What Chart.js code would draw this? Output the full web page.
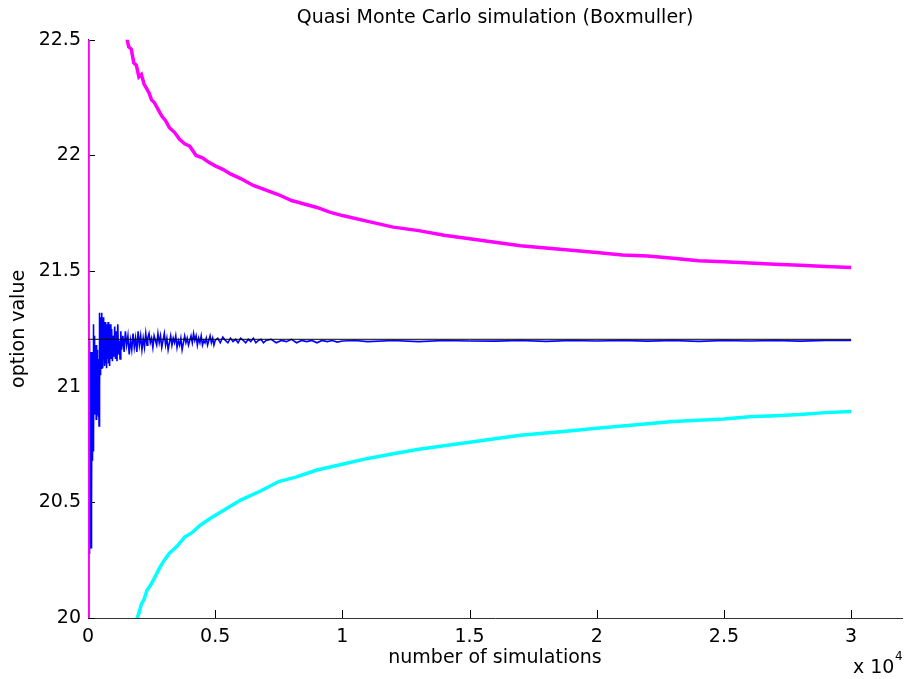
<!DOCTYPE html>
<html>
<head>
<meta charset="utf-8">
<title>Quasi Monte Carlo simulation (Boxmuller)</title>
<script src="https://cdn.jsdelivr.net/npm/chart.js@4/dist/chart.umd.min.js"></script>
<style>
  html, body { margin: 0; padding: 0; background: #fff; }
  canvas { display: block; }
</style>
</head>
<body>
<canvas id="qmcChart" width="906" height="679"></canvas>
<script>
// tick positions (x in number of simulations, shown as multiples of 1e4)
const xTicks = [0, 5000, 10000, 15000, 20000, 25000, 30000];
const yTicks = [20, 20.5, 21, 21.5, 22, 22.5];

// reference value (black line)
const refSeries = [[0, 21.205], [30000, 21.205]];

// running estimate (blue), [simulations, option value]
const blueSeries = [
  [3, 21.36], [6, 20.0], [9, 21.2], [12, 20.4], [15, 21.1], [18, 20.27], [21, 21.15], [24, 20.5],
  [27, 21.2], [30, 20.3], [33, 21.0], [36, 20.45], [39, 21.18], [42, 20.28], [45, 21.05], [48, 20.6],
  [51, 21.2], [54, 20.35], [57, 21.1], [60, 20.5], [63, 20.95], [66, 20.3], [69, 21.15], [72, 20.55],
  [75, 21.05], [78, 20.28], [81, 21.12], [84, 20.45], [87, 21.0], [90, 20.32], [94, 21.15], [98, 20.5],
  [102, 21.08], [106, 20.3], [110, 21.0], [114, 20.55], [118, 21.15], [122, 20.4], [126, 21.05], [130, 20.3],
  [134, 21.1], [138, 20.6], [142, 20.95], [146, 20.35], [150, 21.12], [154, 20.5], [158, 21.05], [162, 20.7],
  [167, 21.1], [172, 20.68], [177, 21.0], [182, 20.75], [187, 21.15], [192, 20.7], [197, 21.05], [202, 20.8],
  [207, 21.2], [212, 20.72], [217, 21.27], [222, 20.85], [227, 21.1], [232, 20.78], [237, 21.22], [242, 20.9],
  [250, 21.2], [258, 20.88], [266, 21.12], [274, 20.95], [282, 21.18], [290, 20.9], [298, 21.1], [306, 20.97],
  [314, 21.15], [322, 20.86], [330, 21.08], [338, 20.93], [346, 21.18], [354, 20.88], [362, 21.1], [370, 20.95],
  [378, 21.16], [386, 20.9], [394, 21.12], [402, 20.87], [410, 21.05], [418, 20.92], [426, 21.1], [434, 20.83],
  [442, 21.2], [450, 20.95], [458, 21.32], [466, 21.0], [474, 21.28], [482, 21.05], [490, 21.3], [498, 21.1],
  [510, 21.28], [525, 21.08], [540, 21.32], [555, 21.1], [570, 21.25], [585, 21.08], [600, 21.3], [615, 21.12],
  [630, 21.26], [650, 21.09], [670, 21.28], [690, 21.1], [710, 21.24], [730, 21.08], [750, 21.27], [770, 21.12],
  [790, 21.28], [810, 21.1], [830, 21.22], [850, 21.09], [870, 21.27], [900, 21.12], [930, 21.25], [960, 21.11],
  [990, 21.22], [1020, 21.13], [1050, 21.26], [1080, 21.12], [1110, 21.24], [1140, 21.11], [1170, 21.27], [1200, 21.14],
  [1230, 21.2], [1260, 21.12], [1290, 21.24], [1320, 21.16], [1370, 21.22], [1420, 21.15], [1470, 21.24], [1520, 21.18],
  [1570, 21.22], [1620, 21.14], [1670, 21.2], [1720, 21.16], [1770, 21.23], [1820, 21.17], [1870, 21.21], [1920, 21.15],
  [1970, 21.24], [2020, 21.18], [2070, 21.22], [2120, 21.16], [2170, 21.21], [2220, 21.17], [2270, 21.23], [2320, 21.18],
  [2350, 21.21], [2400, 21.23], [2450, 21.19], [2500, 21.21], [2550, 21.17], [2600, 21.22], [2650, 21.2], [2700, 21.18],
  [2750, 21.23], [2800, 21.19], [2850, 21.22], [2900, 21.17], [2950, 21.2], [3000, 21.23], [3050, 21.18], [3100, 21.21],
  [3150, 21.16], [3200, 21.19], [3250, 21.22], [3300, 21.18], [3350, 21.21], [3400, 21.19], [3450, 21.22], [3500, 21.17],
  [3550, 21.2], [3600, 21.18], [3650, 21.21], [3700, 21.16], [3750, 21.19], [3800, 21.22], [3850, 21.19], [3900, 21.21],
  [3950, 21.18], [4000, 21.2], [4050, 21.22], [4100, 21.19], [4150, 21.23], [4200, 21.2], [4250, 21.22], [4300, 21.18],
  [4350, 21.21], [4400, 21.19], [4450, 21.22], [4500, 21.18], [4550, 21.2], [4600, 21.19], [4650, 21.21], [4700, 21.18],
  [4750, 21.2], [4800, 21.22], [4850, 21.19], [4900, 21.21], [4950, 21.18], [5000, 21.2], [5100, 21.21], [5200, 21.19],
  [5300, 21.215], [5400, 21.2], [5500, 21.19], [5600, 21.21], [5700, 21.195], [5800, 21.205], [5900, 21.19], [6000, 21.21],
  [6100, 21.2], [6200, 21.19], [6300, 21.205], [6400, 21.195], [6500, 21.21], [6600, 21.19], [6700, 21.2], [6800, 21.205],
  [6900, 21.19], [7000, 21.2], [7200, 21.205], [7400, 21.19], [7600, 21.2], [7800, 21.195], [8000, 21.205], [8200, 21.19],
  [8400, 21.2], [8600, 21.195], [8800, 21.2], [9000, 21.19], [9200, 21.2], [9400, 21.195], [9600, 21.2], [9800, 21.193],
  [10000, 21.198], [10500, 21.2], [11000, 21.195], [12000, 21.2], [13000, 21.195], [14000, 21.2], [15000, 21.198], [16000, 21.197],
  [17000, 21.2], [18000, 21.196], [19000, 21.2], [20000, 21.198], [21000, 21.2], [22000, 21.197], [23000, 21.2], [24000, 21.196],
  [25000, 21.2], [26000, 21.198], [27000, 21.2], [28000, 21.197], [29000, 21.2], [30000, 21.2]
];

// upper bound (magenta)
const upperSeries = [
  [1, 19.6], [4, 25.0], [1000, 22.9], [1300, 22.7], [1500, 22.52], [1600, 22.47], [1700, 22.46], [1800, 22.4],
  [1900, 22.39], [2000, 22.34], [2100, 22.35], [2200, 22.31], [2300, 22.29], [2400, 22.27], [2500, 22.24], [2600, 22.23],
  [2750, 22.2], [2900, 22.17], [3050, 22.15], [3200, 22.12], [3400, 22.1], [3600, 22.07], [3800, 22.05], [4000, 22.04],
  [4250, 22.0], [4500, 21.99], [4750, 21.97], [5000, 21.955], [5300, 21.94], [5600, 21.92], [6000, 21.9], [6500, 21.87],
  [7000, 21.85], [7500, 21.83], [8000, 21.805], [8500, 21.79], [9000, 21.775], [9500, 21.755], [10000, 21.74], [11000, 21.715],
  [12000, 21.69], [13000, 21.675], [14000, 21.655], [15000, 21.64], [16000, 21.625], [17000, 21.61], [18000, 21.6], [19000, 21.59],
  [20000, 21.58], [21000, 21.57], [22000, 21.565], [23000, 21.555], [24000, 21.545], [25000, 21.54], [26000, 21.535], [27000, 21.53],
  [28000, 21.525], [29000, 21.52], [30000, 21.515]
];

// lower bound (cyan)
const lowerSeries = [
  [2, 16.0], [1000, 19.5], [1500, 19.8], [1750, 19.92], [1930, 20.0], [2000, 20.02], [2100, 20.06], [2200, 20.08],
  [2320, 20.12], [2450, 20.14], [2600, 20.17], [2830, 20.22], [3000, 20.25], [3200, 20.28], [3500, 20.31], [3800, 20.35],
  [4100, 20.37], [4400, 20.4], [4800, 20.43], [5400, 20.47], [6000, 20.51], [6800, 20.55], [7500, 20.59], [8200, 20.61],
  [9000, 20.64], [10000, 20.665], [11000, 20.69], [12000, 20.71], [13000, 20.73], [14000, 20.745], [15000, 20.76], [16000, 20.775],
  [17000, 20.79], [18000, 20.8], [19000, 20.81], [20000, 20.82], [21000, 20.83], [22000, 20.84], [23000, 20.85], [24000, 20.855],
  [25000, 20.86], [26000, 20.87], [27000, 20.875], [28000, 20.88], [29000, 20.888], [30000, 20.893]
];

const toPoints = (series) => series.map(([x, y]) => ({ x, y }));

const font = { family: "'DejaVu Sans', sans-serif", size: 19 };

// MATLAB style ticks pointing into the plot, plus the "x 10^4" multiplier
const matlabAxes = {
  id: "matlabAxes",
  beforeDatasetsDraw(chart) {
    const { ctx, chartArea, scales } = chart;
    ctx.save();
    ctx.strokeStyle = "#000";
    ctx.lineWidth = 1;
    ctx.beginPath();
    for (const t of scales.x.ticks) {
      const px = Math.round(scales.x.getPixelForValue(t.value)) + 0.5;
      ctx.moveTo(px, chartArea.bottom);
      ctx.lineTo(px, chartArea.bottom - 8);
    }
    for (const t of scales.y.ticks) {
      const py = Math.round(scales.y.getPixelForValue(t.value)) + 0.5;
      ctx.moveTo(chartArea.left, py);
      ctx.lineTo(chartArea.left + 7, py);
    }
    ctx.stroke();
    ctx.restore();
  },
  afterDraw(chart) {
    const { ctx } = chart;
    ctx.save();
    ctx.fillStyle = "#000";
    ctx.textBaseline = "alphabetic";
    ctx.font = "19px 'DejaVu Sans'";
    ctx.fillText("x 10", 853, 673);
    ctx.font = "12px 'DejaVu Sans'";
    ctx.fillText("4", 895, 660);
    ctx.restore();
  }
};

new Chart(document.getElementById("qmcChart"), {
  type: "line",
  data: {
    datasets: [
      { data: toPoints(refSeries), borderColor: "#000000", borderWidth: 1 },
      { data: toPoints(upperSeries), borderColor: "#ff00ff", borderWidth: 3.5 },
      { data: toPoints(lowerSeries), borderColor: "#00ffff", borderWidth: 3.5 },
      { data: toPoints(blueSeries), borderColor: "#0000ff", borderWidth: 1.6 }
    ]
  },
  options: {
    responsive: false,
    animation: false,
    elements: { point: { radius: 0 }, line: { tension: 0, borderJoinStyle: "miter" } },
    layout: { padding: { left: 0, right: 4, top: 0, bottom: 0 } },
    plugins: {
      legend: { display: false },
      tooltip: { enabled: false },
      title: {
        display: true,
        fullSize: false,
        text: "Quasi Monte Carlo simulation (Boxmuller)",
        color: "#000",
        font: { ...font, weight: "normal" },
        padding: { top: 7, bottom: 10 }
      }
    },
    scales: {
      x: {
        type: "linear",
        min: 0,
        max: 32000,
        afterBuildTicks: (scale) => { scale.ticks = xTicks.map((v) => ({ value: v })); },
        afterFit: (scale) => { scale.height = 61; },
        grid: { display: false, drawTicks: false, tickLength: 0 },
        border: { display: true, color: "#333", width: 1 },
        ticks: { color: "#000", font, padding: 8, maxRotation: 0, autoSkip: false,
                 callback: (v) => String(v / 10000) },
        title: { display: true, text: "number of simulations", color: "#000", font,
                 padding: { top: 0, bottom: 10 } }
      },
      y: {
        type: "linear",
        min: 20,
        max: 22.5,
        afterBuildTicks: (scale) => { scale.ticks = yTicks.map((v) => ({ value: v })); },
        afterFit: (scale) => { scale.width = 88; },
        grid: { display: false, drawTicks: false, tickLength: 0 },
        border: { display: true, color: "#000", width: 1 },
        ticks: { color: "#000", font, padding: 7, callback: (v) => String(v) },
        title: { display: true, text: "option value", color: "#000", font,
                 padding: { top: 8, bottom: 0 } }
      }
    }
  },
  plugins: [matlabAxes]
});
</script>
</body>
</html>
